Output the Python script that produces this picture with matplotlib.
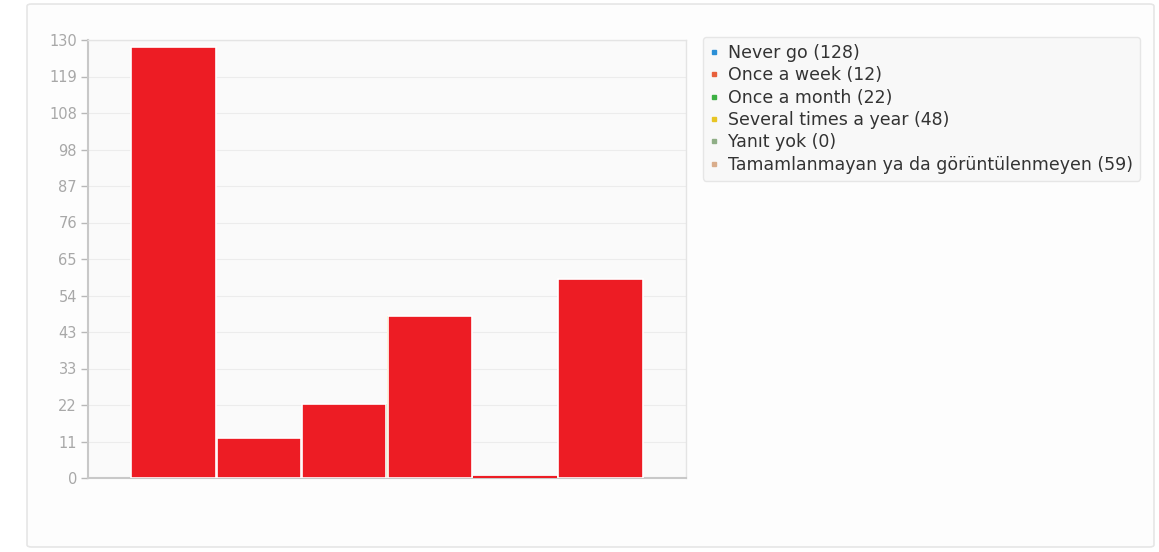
import matplotlib.pyplot as plt
from matplotlib.lines import Line2D
from matplotlib.patches import FancyBboxPatch

plt.rcParams["font.family"] = ["DejaVu Sans"]

# survey answers and counts
answers = ["Never go", "Once a week", "Once a month",
           "Several times a year", "Yanıt yok",
           "Tamamlanmayan ya da görüntülenmeyen"]
counts = [128, 12, 22, 48, 0, 59]
series_colors = ["#2b8fd6", "#e8603c", "#3cb043", "#e8c524", "#8fae86", "#d9ad8c"]
yticks = [i * 130 / 12 for i in range(13)]
ytick_labels = ["0", "11", "22", "33", "43", "54", "65", "76", "87", "98", "108", "119", "130"]

BAR_RED = "#ed1c24"

fig = plt.figure(figsize=(11.59, 5.52), dpi=100)
fig.patch.set_facecolor("white")

# outer panel
panel = FancyBboxPatch((27 / 1159, 5 / 552), 1127 / 1159, 543 / 552,
                       boxstyle="round,pad=0,rounding_size=0.004",
                       transform=fig.transFigure, facecolor="#fdfdfd",
                       edgecolor="#e6e6e6", linewidth=1.2, zorder=-5)
fig.patches.append(panel)

ax = fig.add_axes([88 / 1159, 74 / 552, 598 / 1159, 438 / 552])
ax.set_facecolor("#fafafa")

x = list(range(len(counts)))
# thin series-coloured outline behind each bar
ax.bar(x, counts, width=1.0, color=series_colors, linewidth=0, zorder=2)
edge = ["white" if c else BAR_RED for c in counts]
lw = [1.2 if c else 3.0 for c in counts]
ax.bar(x, counts, width=0.985, color=BAR_RED, edgecolor=edge, linewidth=lw, zorder=3)

ax.set_xlim(-1.0, 6.0)
ax.set_ylim(0, 130)
ax.set_yticks(yticks)
ax.set_yticklabels(ytick_labels)
ax.set_xticks([])
ax.tick_params(axis="y", colors="#b8b8b8", labelcolor="#a8a8a8",
               labelsize=10.5, length=5, width=1, pad=3)
ax.yaxis.grid(True, color="#ececec", linewidth=0.8)
ax.set_axisbelow(True)
for name, sp in ax.spines.items():
    sp.set_color("#e4e4e4")
    sp.set_linewidth(1)
ax.spines["left"].set_color("#c8c8c8")
ax.spines["left"].set_linewidth(1.5)
ax.spines["bottom"].set_color("#c8c8c8")
ax.spines["bottom"].set_linewidth(1.5)

handles = [Line2D([], [], linestyle="none", marker="s", markersize=3.5,
                  markerfacecolor=c, markeredgecolor=c) for c in series_colors]
labels = ["%s (%d)" % (a, c) for a, c in zip(answers, counts)]
leg = fig.legend(handles, labels, loc="upper left",
                 bbox_to_anchor=(703 / 1159, 1 - 37 / 552),
                 frameon=True, fancybox=True, shadow=False,
                 fontsize=12.5, handlelength=0.5, handletextpad=0.55,
                 labelspacing=0.25, borderpad=0.4, borderaxespad=0)
leg.get_frame().set_facecolor("#f7f7f7")
leg.get_frame().set_edgecolor("#e2e2e2")
for t in leg.get_texts():
    t.set_color("#333333")

fig.savefig("out.png", dpi=100)
